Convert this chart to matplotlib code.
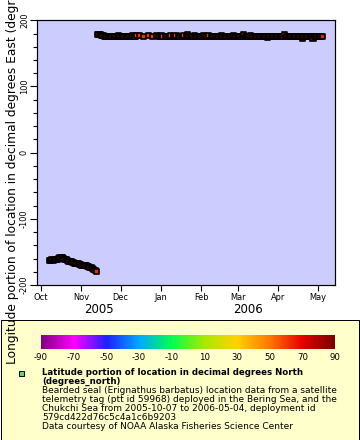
import datetime as dt
import matplotlib
matplotlib.use('Agg')
import matplotlib.pyplot as plt
import matplotlib.dates as mdates
from matplotlib.colors import LinearSegmentedColormap, Normalize
from matplotlib.colorbar import ColorbarBase
from matplotlib.patches import Rectangle
from matplotlib.ticker import MultipleLocator

plt.rcParams['axes.unicode_minus'] = False

# one fix per day, None = no fix that day
# (month start, first day listed)
month_start = [(2005, 10, 7), (2005, 11, 1), (2005, 12, 1), (2006, 1, 1),
               (2006, 2, 1), (2006, 3, 1), (2006, 4, 1), (2006, 5, 1)]

lon_oct = [-163, -163, -162, -163, -162, -161, -161, -160, -159, -158, -159, -160, -161,
           -162, -163, -164, -165, -165, -166, -167, -167, -168, -168, -169, -169]
lon_nov = [-170, -170, -171, -171, -172, -172, -173, -173, -175, -176, -178, -180,
           179, 179, 178, 177, 177, 176, 176, 176, 175, 175, 176, 176, 175, 175, 176, 176, 177, 176]
lon_dec = [176, 175, 175, 176, 176, 175, 175, 176, 176, 177, 176, 176, 177, None, 177, None,
           None, 176, None, None, None, 177, None, None, 176, None, None, 177, None, 176, 176]
lon_jan = [177, 176, None, 176, 175, 176, 176, 177, None, 176, 176, 177, None, 176, 175, 175,
           176, 177, None, 176, 178, 175, 175, 176, 176, 177, 176, 176, 175, 176, 176]
lon_feb = [176, 177, None, 176, 176, 177, None, 176, 175, 176, 176, 175, 175, 176, 176, 177,
           176, 175, 175, 176, 176, 176, 175, 176, 177, 176, 176, 175]
lon_mar = [176, 175, 176, 176, 178, 176, 175, 176, 176, 177, None, 176, 175, 175, 176, 176,
           175, 176, 176, 175, 175, 176, 173.5, 176, 175, 176, 176, 175, 176, 176, 175]
lon_apr = [176, 176, 175, 176, 179, None, 176, 176, 175, 175, 176, 176, 175, 176, 175, 175,
           176, 175, 173, 175, 176, 176, 175, 176, 175, 176, 173, 175, 176, 176]
lon_may = [176, 175, 176, 175]

lat_oct = [67.2, 67.0, 66.9, 66.8, 66.6, 66.5, 66.4, 66.5, 66.3, 66.1, 66.0, 65.8, 65.7,
           65.5, 65.4, 65.2, 65.0, 64.9, 64.8, 64.7, 64.5, 64.4, 64.3, 64.2, 64.0]
lat_nov = [63.9, 63.8, 63.8, 63.7, 63.6, 63.6, 63.5, 63.4, 63.4, 63.3, 63.2, 63.1, 63.0,
           62.9, 62.9, 62.8, 62.8, 62.7, 62.7, 62.6, 62.6, 62.5, 62.5, 62.4, 62.4, 62.4,
           62.3, 62.3, 62.3, 62.2]
lat_dec = [62.2, 62.1, 62.1, 62.0, 62.0, 61.9, 61.9, 61.8, 61.8, 61.8, 61.7, 61.7, 61.6,
           61.6, 61.6, 61.5, 61.5, 61.5, 61.5, 61.4, 61.4, 61.4, 61.4, 61.3, 61.3, 61.3,
           61.3, 61.2, 61.2, 61.2, 61.2]
lat_jan = [61.2, 61.1, 61.1, 61.1, 61.0, 61.0, 61.0, 61.1, 61.1, 61.2, 61.2, 61.3, 61.3,
           61.2, 61.2, 61.1, 61.1, 61.0, 61.0, 61.0, 61.1, 61.1, 61.2, 61.2, 61.3, 61.3,
           61.4, 61.4, 61.4, 61.5, 61.5]
lat_feb = [61.5, 61.6, 61.6, 61.6, 61.7, 61.7, 61.7, 61.8, 61.8, 61.8, 61.9, 61.9, 61.9,
           62.0, 62.0, 62.0, 62.1, 62.1, 62.1, 62.2, 62.2, 62.2, 62.3, 62.3, 62.3, 62.4,
           62.4, 62.4]
lat_mar = [62.5, 62.5, 62.6, 62.6, 62.6, 62.7, 62.7, 62.7, 62.8, 62.8, 62.8, 62.9, 62.9,
           62.9, 63.0, 63.0, 63.0, 63.1, 63.1, 63.1, 63.2, 63.2, 63.2, 63.3, 63.3, 63.3,
           63.4, 63.4, 63.4, 63.5, 63.5]
lat_apr = [63.5, 63.6, 63.6, 63.6, 63.7, 63.7, 63.7, 63.8, 63.8, 63.8, 63.9, 63.9, 63.9,
           64.0, 64.0, 64.0, 64.1, 64.1, 64.1, 64.2, 64.2, 64.2, 64.3, 64.3, 64.3, 64.4,
           64.4, 64.4, 64.5, 64.5]
lat_may = [64.5, 64.6, 64.6, 64.7]

lon_months = [lon_oct, lon_nov, lon_dec, lon_jan, lon_feb, lon_mar, lon_apr, lon_may]
lat_months = [lat_oct, lat_nov, lat_dec, lat_jan, lat_feb, lat_mar, lat_apr, lat_may]

cbar_ticks = [-90, -70, -50, -30, -10, 10, 30, 50, 70, 90]
rainbow = ['#800080', '#ff00ff', '#2020ff', '#00a8ff', '#00ff50',
           '#a8e800', '#ffd200', '#ff7800', '#e80000', '#780000']

legend_title = 'Latitude portion of location in decimal degrees North\n(degrees_north)'
legend_lines = [
  'Bearded seal (Erignathus barbatus) location data from a satellite',
  'telemetry tag (ptt id 59968) deployed in the Bering Sea, and the',
  'Chukchi Sea from 2005-10-07 to 2006-05-04, deployment id',
  '579cd422d76c5c4a1c6b9203',
  'Data courtesy of NOAA Alaska Fisheries Science Center',
]

W, H = 360., 440.
PT = 0.72  # points per pixel at dpi 100


def collect():
  dates, lons, lats = [], [], []
  for (y, m, d0), lon, lat in zip(month_start, lon_months, lat_months):
    for i, (lo, la) in enumerate(zip(lon, lat)):
      if lo is None:
        continue
      dates.append(mdates.date2num(dt.datetime(y, m, d0 + i, 12)))
      lons.append(lo)
      lats.append(la)
  return dates, lons, lats


def main():
  dates, lons, lats = collect()
  cmap = LinearSegmentedColormap.from_list('erd_rainbow', rainbow)
  norm = Normalize(-90, 90)

  fig = plt.figure(figsize=(W / 100, H / 100), dpi=100)
  fig.patches.append(Rectangle((0.5 / W, 0.5 / H), (W - 1.5) / W, 119.5 / H,
                               transform=fig.transFigure, facecolor='#ffffcc',
                               edgecolor='black', linewidth=1 * PT, zorder=-1))

  ax = fig.add_axes([37.3 / W, 1 - 285 / H, (335 - 37.3) / W, (285 - 20.3) / H])
  ax.set_facecolor('#ccccff')
  ax.scatter(dates, lons, c=lats, cmap=cmap, norm=norm, marker='s', s=14,
             edgecolors='black', linewidths=1.7 * PT, zorder=3)

  x0 = mdates.date2num(dt.datetime(2005, 9, 28, 5))
  x1 = mdates.date2num(dt.datetime(2006, 5, 14, 8))
  ax.set_xlim(x0, x1)
  ax.set_ylim(-200, 200)
  ax.xaxis.set_major_locator(mdates.MonthLocator())
  ax.xaxis.set_major_formatter(mdates.DateFormatter('%b'))
  ax.yaxis.set_major_locator(MultipleLocator(100))
  ax.yaxis.set_minor_locator(MultipleLocator(20))
  ax.tick_params(axis='x', which='major', length=4, width=0.8, pad=1.5,
                 labelsize=8.3 * PT)
  ax.tick_params(axis='y', which='major', length=5, width=0.8, pad=1,
                 labelsize=8.3 * PT, labelrotation=90)
  ax.tick_params(axis='y', which='minor', length=2.8, width=0.8)
  for lab in ax.get_yticklabels():
    lab.set_va('center')
  for sp in ax.spines.values():
    sp.set_linewidth(1.2 * PT)

  jan1 = mdates.date2num(dt.datetime(2006, 1, 1))
  trans = matplotlib.transforms.blended_transform_factory(ax.transData, ax.transAxes)
  ax.text((x0 + jan1) / 2, -25 / 265., '2005', transform=trans,
          ha='center', va='center', fontsize=11.8 * PT)
  ax.text((jan1 + x1) / 2, -25 / 265., '2006', transform=trans,
          ha='center', va='center', fontsize=11.8 * PT)

  ax.set_ylabel('Longitude portion of location in decimal degrees East (degrees_east)',
                fontsize=12.3 * PT)
  ax.yaxis.set_label_coords((19 - 37.3) / 297.7, 0.5)

  # colour bar
  cax = fig.add_axes([41 / W, 1 - 349.3 / H, (335 - 41) / W, 14.6 / H])
  cb = ColorbarBase(cax, cmap=cmap, norm=norm, orientation='horizontal', ticks=cbar_ticks)
  cb.outline.set_visible(False)
  cax.tick_params(length=0, pad=2.5, labelsize=8.6 * PT)

  # legend
  fig.patches.append(Rectangle((19 / W, 1 - 375.5 / H), 5 / W, 5 / H,
                               transform=fig.transFigure, facecolor='#55dd55',
                               edgecolor='black', linewidth=1 * PT))
  fig.text(42.5 / W, 1 - 367.5 / H, legend_title, fontsize=8.6 * PT, fontweight='bold',
           va='top', ha='left', linespacing=1.0)
  for i, line in enumerate(legend_lines):
    fig.text(42.5 / W, 1 - (390.5 + 9.1 * i) / H, line, fontsize=9.0 * PT,
             va='center', ha='left')

  fig.savefig('out.png', dpi=100)


if __name__ == '__main__':
  main()
